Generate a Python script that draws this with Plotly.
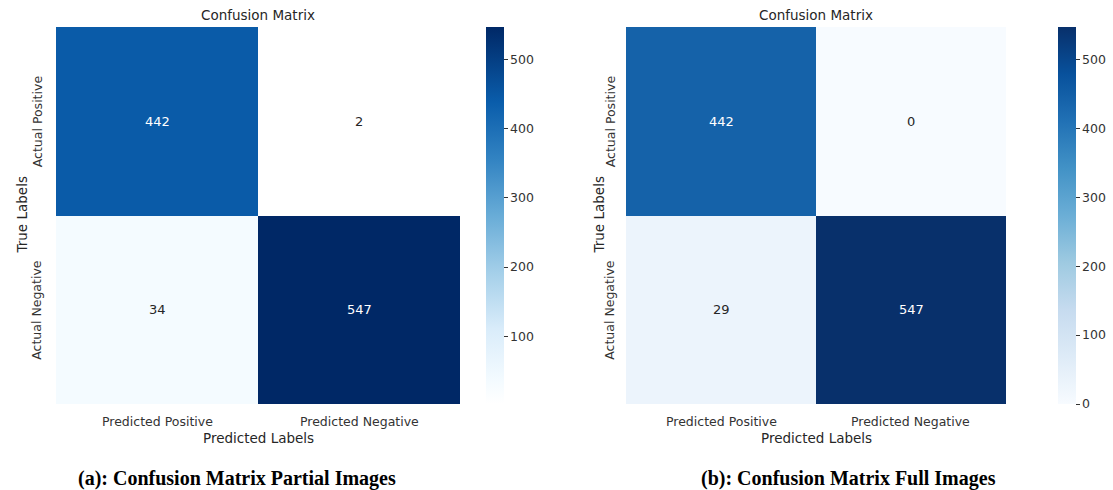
import plotly.graph_objects as go

W, H = 1113, 490

pred_labels = ["Predicted Positive", "Predicted Negative"]
true_labels = ["Actual Positive", "Actual Negative"]

partial_counts = [[442, 2], [34, 547]]
full_counts = [[442, 0], [29, 547]]

partial_ticks = [100, 200, 300, 400, 500]
full_ticks = [0, 100, 200, 300, 400, 500]

captions = ["(a): Confusion Matrix Partial Images", "(b): Confusion Matrix Full Images"]

# colour scales
partial_scale = [
    [0.0, "#ffffff"], [0.06, "#f4fbff"], [0.2, "#d9ecfa"], [0.35, "#a4cfe9"],
    [0.5, "#68acd7"], [0.65, "#3283c2"], [0.8, "#0a5dab"], [1.0, "#002866"],
]
full_scale = [
    [0.0, "#f7fbff"], [0.125, "#deebf7"], [0.25, "#c6dbef"], [0.375, "#9ecae1"],
    [0.5, "#6baed6"], [0.625, "#4292c6"], [0.75, "#2171b5"], [0.875, "#08519c"],
    [1.0, "#08306b"],
]

FONT = "DejaVu Sans"
TXT = "#262626"
TICK = "#333333"


def px_x(v):
    return v / W


def px_y(v):
    return 1 - v / H


def note(x, y, text, size, color=TXT, family=FONT, angle=0):
    return dict(x=px_x(x), y=px_y(y), xref="paper", yref="paper", text=text,
                showarrow=False, xanchor="center", yanchor="middle", textangle=angle,
                font=dict(family=family, size=size, color=color))


panels = [
    dict(counts=partial_counts, scale=partial_scale, ticks=partial_ticks,
         x0=56, x1=460, cb=486, ylab_x=37, ytitle_x=21, cap_x=237),
    dict(counts=full_counts, scale=full_scale, ticks=full_ticks,
         x0=626, x1=1006, cb=1058, ylab_x=610, ytitle_x=598, cap_x=848),
]
top, bottom = 27, 404

fig = go.Figure()
annotations = []

for i, p in enumerate(panels):
    n = "" if i == 0 else str(i + 1)
    flat = [v for row in p["counts"] for v in row]
    zmin, zmax = min(flat), max(flat)
    fig.add_trace(go.Heatmap(
        z=p["counts"], x=pred_labels, y=true_labels,
        colorscale=p["scale"], zmin=zmin, zmax=zmax,
        xaxis="x" + n, yaxis="y" + n, hoverinfo="skip",
        colorbar=dict(
            x=px_x(p["cb"]), xanchor="left", thickness=18, thicknessmode="pixels",
            len=bottom - top, lenmode="pixels", y=px_y(top), yanchor="top",
            outlinewidth=0, tickvals=p["ticks"], ticks="outside", ticklen=4,
            tickwidth=1.2, tickcolor=TICK, xpad=0, ypad=0,
            tickfont=dict(family=FONT, size=12.5, color=TICK),
        ),
    ))
    fig.update_layout(**{
        "xaxis" + n: dict(domain=[px_x(p["x0"]), px_x(p["x1"])], anchor="y" + n,
                          showgrid=False, zeroline=False, ticks="",
                          showticklabels=False),
        "yaxis" + n: dict(domain=[px_y(bottom), px_y(top)], anchor="x" + n,
                          autorange="reversed", showgrid=False, zeroline=False,
                          showticklabels=False),
    })
    # cell values
    for r, row in enumerate(p["counts"]):
        for c, v in enumerate(row):
            dark = (v - zmin) / (zmax - zmin) > 0.5
            annotations.append(dict(
                x=pred_labels[c], y=true_labels[r], xref="x" + n, yref="y" + n,
                text=str(v), showarrow=False,
                font=dict(family=FONT, size=13, color="#ffffff" if dark else TXT),
            ))
    cx = (p["x0"] + p["x1"]) / 2
    cw = (p["x1"] - p["x0"]) / 2
    ch = (bottom - top) / 2
    # category labels along both axes
    for c, lab in enumerate(pred_labels):
        annotations.append(note(p["x0"] + cw * (c + 0.5), 421, lab, 12.5, TICK))
    for r, lab in enumerate(true_labels):
        annotations.append(note(p["ylab_x"], top + ch * (r + 0.5), lab, 12.5, TICK, angle=-90))
    annotations += [
        note(cx, 15, "Confusion Matrix", 13.5),
        note(cx, 438, "Predicted Labels", 13.5),
        note(p["ytitle_x"], (top + bottom) / 2, "True Labels", 13.5, angle=-90),
        note(p["cap_x"], 478, "<b>" + captions[i] + "</b>", 20, "#000000",
             family="Liberation Serif"),
    ]

fig.update_layout(
    width=W, height=H, margin=dict(l=0, r=0, t=0, b=0),
    paper_bgcolor="white", plot_bgcolor="white",
    annotations=annotations, showlegend=False,
)

fig.write_html("out.html")
